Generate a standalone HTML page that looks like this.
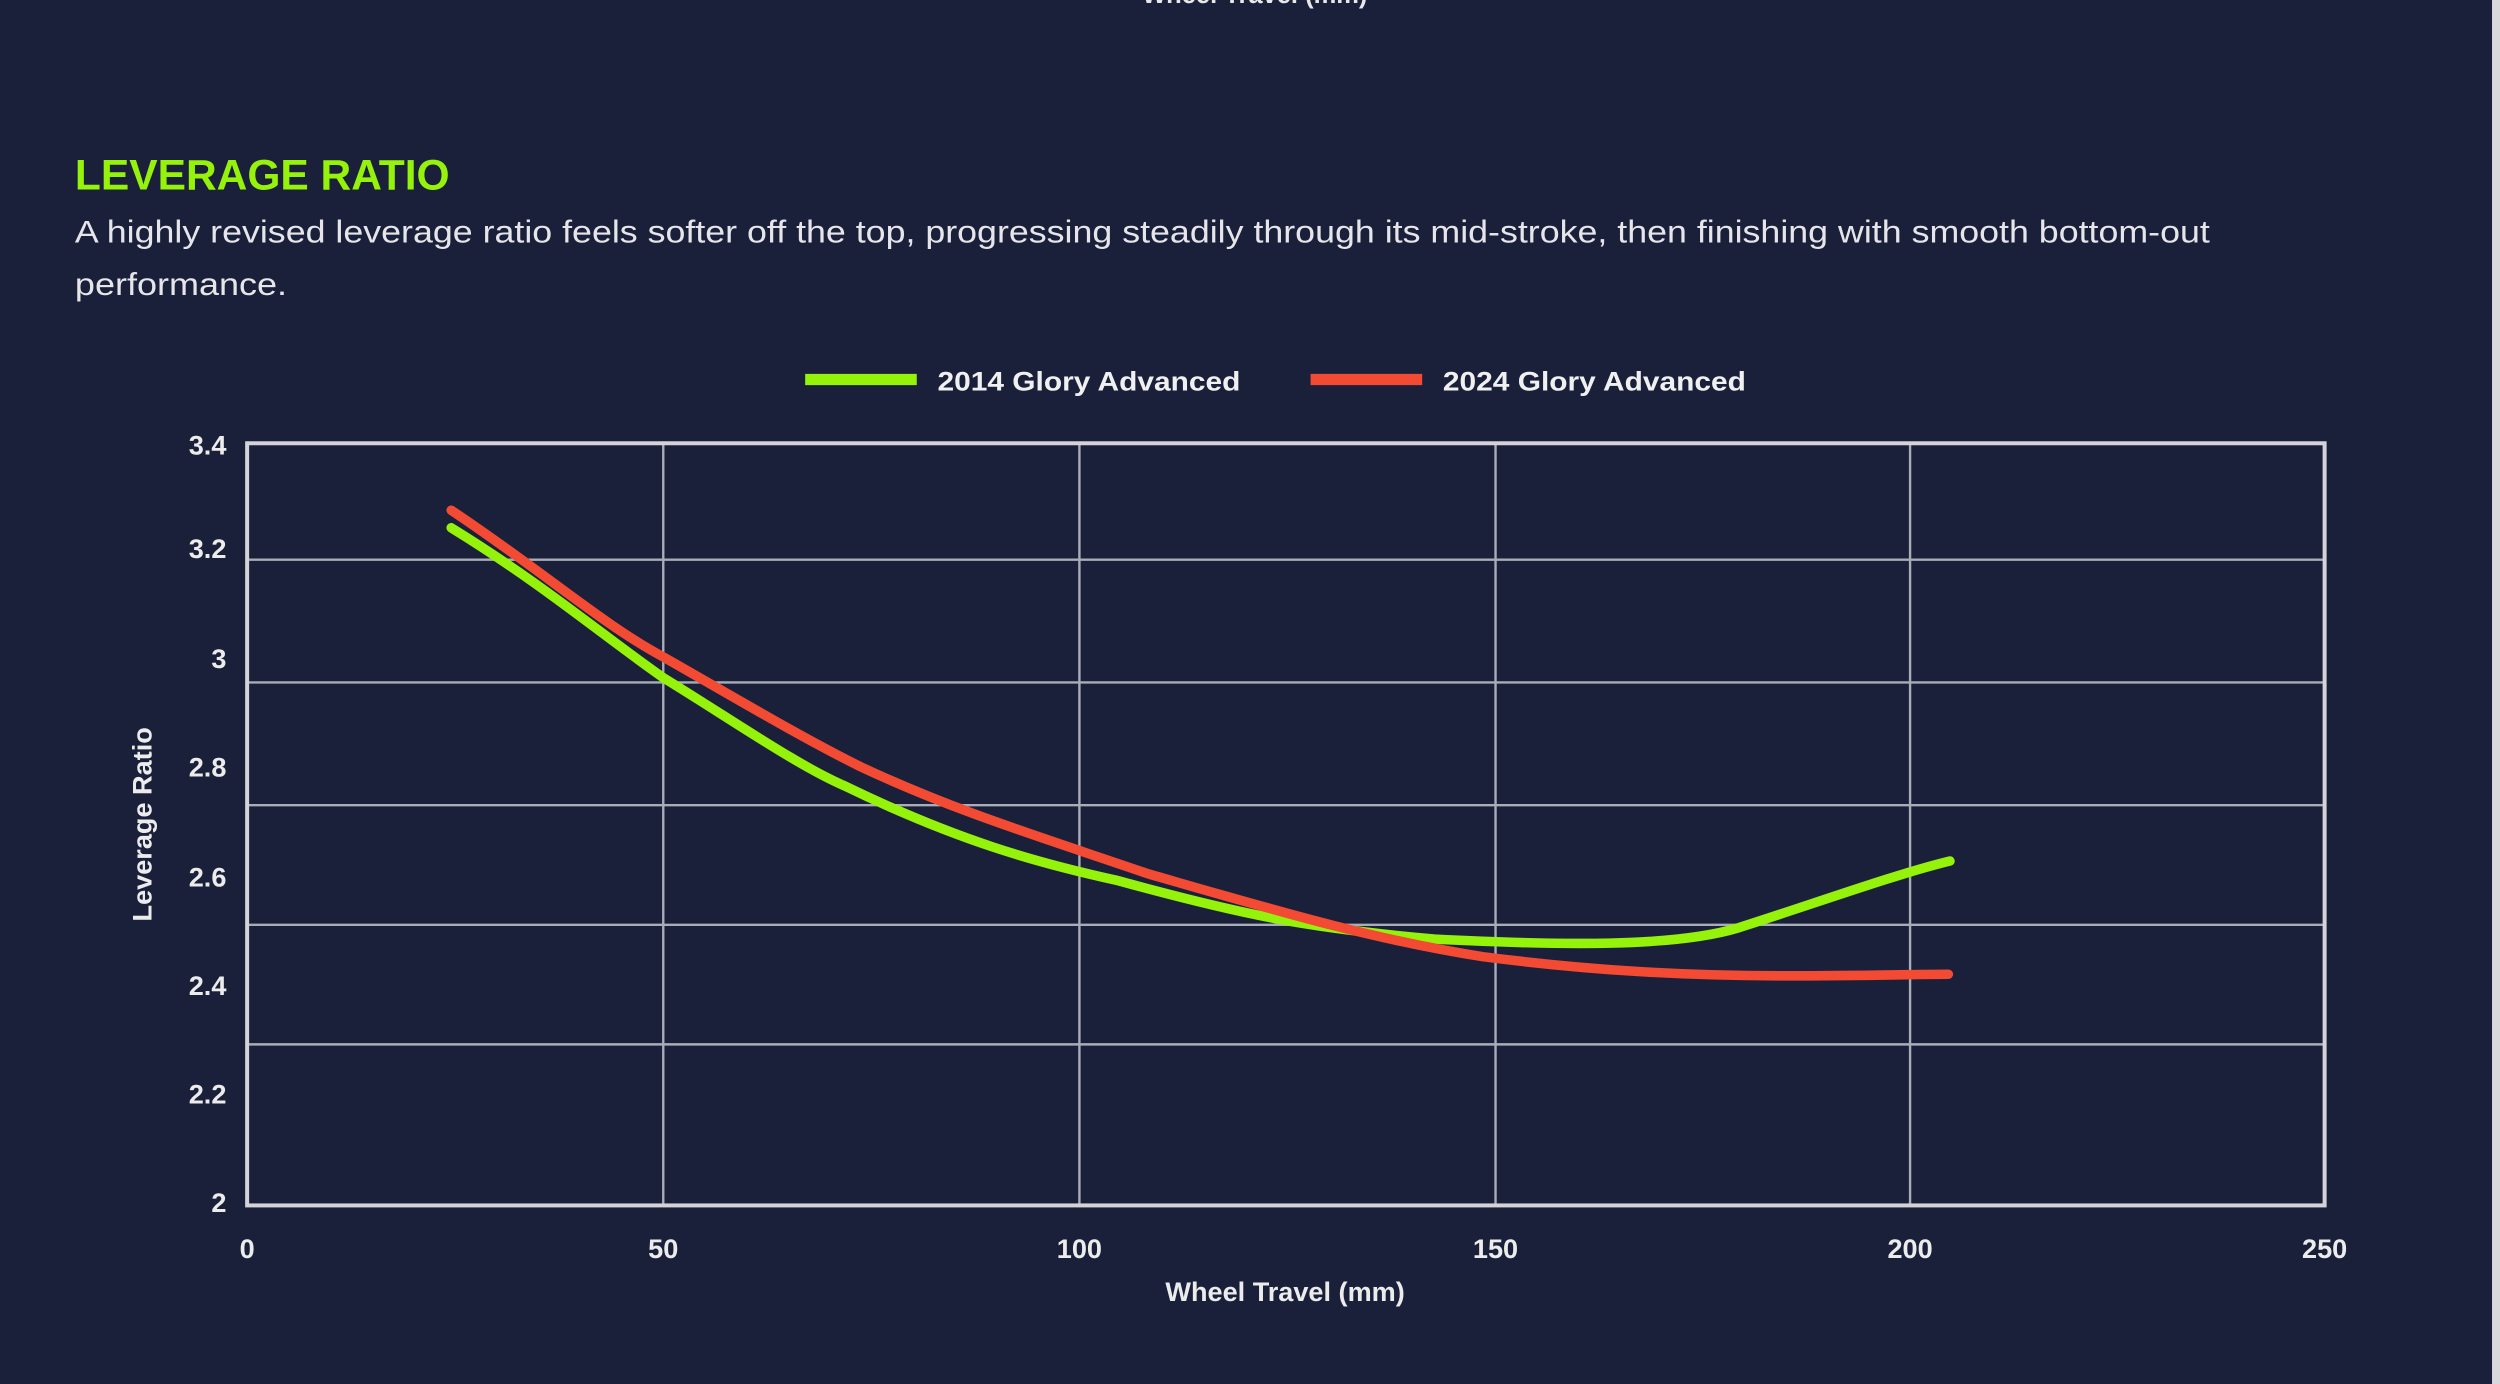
<!DOCTYPE html>
<html><head><meta charset="utf-8"><style>
html,body{margin:0;padding:0;background:#1a203a;}
svg{display:block;}
text{font-family:"Liberation Sans",sans-serif;}
</style></head><body>
<svg width="2500" height="1384" viewBox="0 0 1568 868" preserveAspectRatio="none" xmlns="http://www.w3.org/2000/svg">
<rect x="0" y="0" width="1568" height="868" fill="#1a203a"/>
<rect x="1563" y="0" width="5" height="868" fill="#d8d8dc"/>
<text x="787" y="2" font-size="16" font-weight="bold" fill="#e8e8e8" text-anchor="middle">Wheel Travel (mm)</text>
<text x="47" y="119" font-size="27" font-weight="bold" fill="#95f20a" textLength="235" lengthAdjust="spacingAndGlyphs">LEVERAGE RATIO</text>
<text x="47" y="152" font-size="20" fill="#e6e6ea" textLength="1339" lengthAdjust="spacingAndGlyphs">A highly revised leverage ratio feels softer off the top, progressing steadily through its mid-stroke, then finishing with smooth bottom-out</text>
<text x="47" y="185" font-size="20" fill="#e6e6ea" textLength="133" lengthAdjust="spacingAndGlyphs">performance.</text>
<line x1="505" y1="238" x2="575" y2="238" stroke="#95f20a" stroke-width="7"/>
<text x="588" y="245" font-size="17" font-weight="bold" fill="#f0f0f0" textLength="190" lengthAdjust="spacingAndGlyphs">2014 Glory Advanced</text>
<line x1="822" y1="238" x2="892" y2="238" stroke="#f34a33" stroke-width="7"/>
<text x="905" y="245" font-size="17" font-weight="bold" fill="#f0f0f0" textLength="190" lengthAdjust="spacingAndGlyphs">2024 Glory Advanced</text>
<g stroke="#a9adb8" stroke-width="1.5">
<line x1="155" y1="351" x2="1458" y2="351"/>
<line x1="155" y1="428" x2="1458" y2="428"/>
<line x1="155" y1="505" x2="1458" y2="505"/>
<line x1="155" y1="580" x2="1458" y2="580"/>
<line x1="155" y1="655" x2="1458" y2="655"/>
<line x1="416" y1="278" x2="416" y2="756"/>
<line x1="677" y1="278" x2="677" y2="756"/>
<line x1="938" y1="278" x2="938" y2="756"/>
<line x1="1198" y1="278" x2="1198" y2="756"/>
</g>
<rect x="155" y="278" width="1303" height="478" fill="none" stroke="#d4d4d8" stroke-width="2.5"/>
<g font-size="17" font-weight="bold" fill="#ececec" text-anchor="end">
<text x="142" y="285">3.4</text>
<text x="142" y="350">3.2</text>
<text x="142" y="419">3</text>
<text x="142" y="487">2.8</text>
<text x="142" y="556">2.6</text>
<text x="142" y="624">2.4</text>
<text x="142" y="692">2.2</text>
<text x="142" y="760">2</text>
</g>
<g font-size="17" font-weight="bold" fill="#ececec" text-anchor="middle">
<text x="155" y="789">0</text>
<text x="416" y="789">50</text>
<text x="677" y="789">100</text>
<text x="938" y="789">150</text>
<text x="1198" y="789">200</text>
<text x="1458" y="789">250</text>
</g>
<text x="806" y="816" font-size="17" font-weight="bold" fill="#ececec" text-anchor="middle">Wheel Travel (mm)</text>
<text transform="translate(95,517) rotate(-90)" font-size="17" font-weight="bold" fill="#ececec" text-anchor="middle">Leverage Ratio</text>
<path d="M283,331 C340,366 380,400 416,425 C460,452 500,480 530,493 C600,527 650,541 700,552 C780,574 820,582 900,589 C980,593 1050,594 1090,582 C1140,566 1190,548 1223,540" fill="none" stroke="#95f20a" stroke-width="6" stroke-linecap="round"/>
<path d="M283,320 C340,358 380,393 416,412 C460,437 500,461 540,481 C600,509 650,524 720,548 C800,571 860,589 930,600 C1000,609 1060,612 1120,612 C1170,612 1200,611 1222,611" fill="none" stroke="#f34a33" stroke-width="6" stroke-linecap="round"/>
</svg>
</body></html>
